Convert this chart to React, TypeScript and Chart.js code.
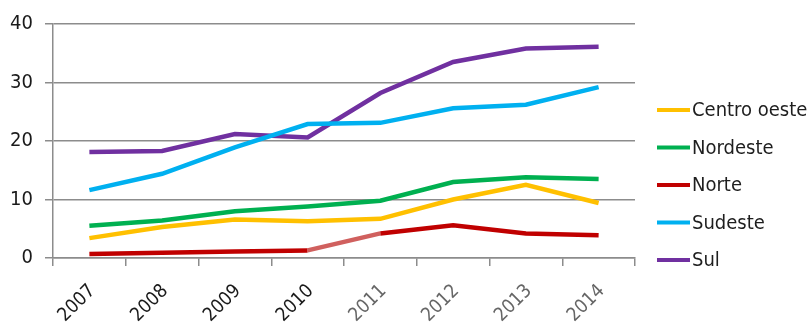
import React, { useEffect, useRef } from "react";
import { Chart, registerables } from "chart.js";

Chart.register(...registerables);

const years = ["2007", "2008", "2009", "2010", "2011", "2012", "2013", "2014"];
const centroOeste = [3.4, 5.3, 6.6, 6.3, 6.7, 10.0, 12.5, 9.4];
const nordeste = [5.5, 6.4, 8.0, 8.8, 9.8, 13.0, 13.8, 13.5];
const norte = [0.7, 0.9, 1.1, 1.3, 4.2, 5.6, 4.2, 3.9];
const sudeste = [11.6, 14.4, 18.9, 22.9, 23.1, 25.6, 26.2, 29.2];
const sul = [18.1, 18.3, 21.2, 20.6, 28.2, 33.5, 35.8, 36.1];
const seriesNames = ["Centro oeste", "Nordeste", "Norte", "Sudeste", "Sul"];
const yMin = 0;
const yMax = 40;
const yStep = 10;

const FONT = "'Liberation Sans Narrow', 'DejaVu Sans Condensed', 'Liberation Sans', sans-serif";

const legendPlugin = {
  id: "sideLegend",
  afterDraw(chart: any) {
    const ctx = chart.ctx;
    ctx.save();
    chart.data.datasets.forEach((ds: any, i: number) => {
      const y = 110 + i * 37.5;
      ctx.strokeStyle = ds.borderColor;
      ctx.lineWidth = 4;
      ctx.beginPath();
      ctx.moveTo(657, y);
      ctx.lineTo(690, y);
      ctx.stroke();
      ctx.fillStyle = "#1e1e1e";
      ctx.font = `20px ${FONT}`;
      ctx.textBaseline = "middle";
      ctx.textAlign = "left";
      ctx.fillText(ds.label, 692, y + 1);
    });
    ctx.restore();
  },
};

export default function App() {
  const ref = useRef<HTMLCanvasElement | null>(null);
  useEffect(() => {
    if (!ref.current) return;
    const colors = ["#FFC000", "#00B050", "#C00000", "#00B0F0", "#7030A0"];
    const values = [centroOeste, nordeste, norte, sudeste, sul];
    const chart = new Chart(ref.current, {
      type: "line",
      data: {
        labels: years,
        datasets: seriesNames.map((name, i) => ({
          label: name,
          data: values[i],
          borderColor: colors[i],
          backgroundColor: colors[i],
          borderWidth: 4.5,
          pointRadius: 0,
          tension: 0,
          fill: false,
          segment:
            i === 2
              ? { borderColor: (c: any) => (c.p0DataIndex === 3 ? "#D0605E" : undefined) }
              : undefined,
        })),
      },
      options: {
        responsive: false,
        animation: false,
        layout: { padding: { top: 22, right: 175, left: 0, bottom: 0 } },
        plugins: {
          legend: { display: false },
          tooltip: { enabled: false },
          title: { display: false },
        },
        scales: {
          x: {
            offset: true,
            grid: {
              display: true,
              drawOnChartArea: false,
              drawTicks: true,
              tickLength: 8,
              offset: true,
              color: "#8c8c8c",
              lineWidth: 1.5,
            },
            border: { display: true, color: "#8c8c8c", width: 1.5 },
            ticks: {
              autoSkip: false,
              minRotation: 45,
              maxRotation: 45,
              padding: 14,
              labelOffset: 3,
              font: { family: FONT, size: 19 },
              color: (c: any) => (c.index < 4 ? "#1a1a1a" : "#666666"),
            },
            afterFit: (s: any) => {
              s.height = 66;
            },
          },
          y: {
            min: yMin,
            max: yMax,
            ticks: {
              stepSize: yStep,
              padding: 12,
              font: { family: FONT, size: 20 },
              color: "#1a1a1a",
            },
            grid: { color: "#8c8c8c", lineWidth: 1.5, tickLength: 8 },
            border: { display: true, color: "#8c8c8c", width: 1.5 },
            afterFit: (s: any) => {
              s.width = 53;
            },
          },
        },
      },
      plugins: [legendPlugin],
    });
    return () => chart.destroy();
  }, []);
  return (
    <div style={{ position: "absolute", left: 0, top: 0, width: 810, height: 324, background: "#fff" }}>
      <canvas ref={ref} width={810} height={324} style={{ display: "block" }} />
    </div>
  );
}
